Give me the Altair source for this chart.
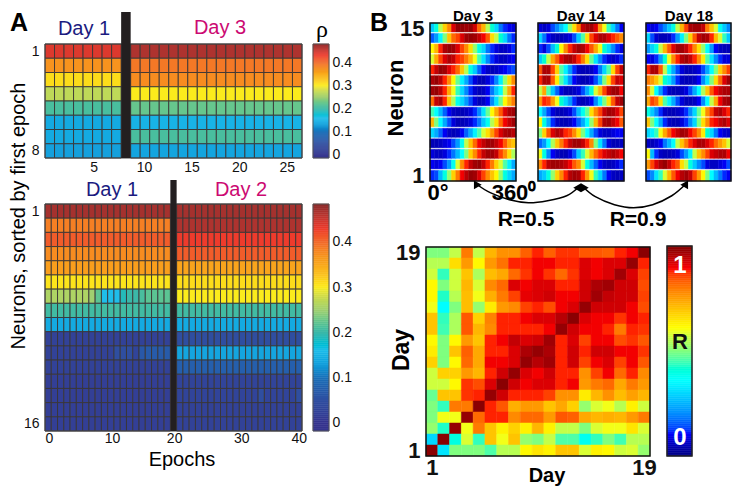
import altair as alt
import numpy as np
import pandas as pd

# ---------- panel A values (rho) ----------
a1_day1 = [.44, .37, .31, .27, .21, .14, .14, .13]
a1_day3 = [.465, .39, .375, .30, .225, .15, .21, .135]
a2_day1 = [.47, .385, .41, .375, .36, .305, .27, .205, .14, .025, .025, .025, .02, .02, .02, .02]
a2_day2 = [.47, .465, .43, .41, .355, .31, .30, .205, .14, .05, .135, .075, .03, .03, .025, .025]
a2_row7_day1 = [.26, .26, .26, .26, .26, .26, .26, .25, .22, .16, .16, .16, .19, .2, .2, .21, .22, .22, .22, .22]
a2_row11_day1 = [.025, .025, .025, .025, .025, .025, .025, .025, .025, .025, .025, .05, .05, .05, .03, .065, .07, .07, .07, .07]
a2_row14_day2 = [.03, .03, .03, .03, .03, .03, .03, .03, .03, .03, .03, .03, .03, .05, .03, .03, .03, .03, .03, .05]

# ---------- panel B values (jet position 0..1), rows listed from neuron 15 down to 1 ----------
day3 = [
 [.28,.40,.55,.68,.78,.92,.98,.98,.97,.98,.93,.82,.72,.55,.42,.30,.18,.12,.10,.08],
 [.15,.22,.35,.50,.70,.82,.86,.92,.97,.98,.97,.94,.90,.84,.66,.56,.42,.30,.18,.12],
 [.62,.72,.88,.96,.98,.97,.92,.86,.78,.66,.52,.40,.30,.18,.12,.08,.06,.06,.08,.12],
 [.58,.74,.86,.92,.96,.94,.88,.86,.80,.72,.60,.45,.32,.20,.12,.08,.06,.06,.08,.10],
 [.88,.94,.98,.97,.92,.88,.82,.70,.55,.40,.28,.16,.10,.06,.05,.06,.08,.10,.12,.14],
 [.96,.98,.95,.88,.78,.62,.48,.34,.24,.14,.08,.05,.05,.08,.12,.20,.34,.52,.66,.78],
 [.97,.98,.95,.88,.74,.60,.44,.30,.20,.12,.07,.05,.06,.10,.18,.28,.36,.56,.74,.88],
 [.82,.94,.96,.88,.70,.54,.38,.30,.22,.14,.08,.05,.06,.10,.20,.32,.48,.62,.72,.80],
 [.45,.36,.26,.16,.10,.06,.05,.05,.06,.08,.12,.20,.32,.48,.62,.74,.84,.92,.96,.97],
 [.72,.50,.36,.24,.14,.08,.05,.05,.06,.08,.12,.18,.28,.38,.55,.66,.82,.90,.94,.97],
 [.30,.24,.16,.10,.06,.05,.06,.10,.16,.24,.34,.46,.58,.66,.76,.86,.92,.96,.97,.95],
 [.05,.05,.06,.08,.10,.14,.22,.38,.56,.70,.82,.90,.94,.97,.97,.94,.90,.84,.74,.70],
 [.08,.06,.06,.08,.12,.18,.26,.36,.50,.68,.78,.88,.94,.97,.97,.94,.86,.78,.66,.54],
 [.10,.08,.10,.14,.22,.38,.58,.78,.88,.94,.97,.98,.94,.88,.80,.68,.58,.46,.34,.24],
 [.12,.14,.26,.40,.52,.68,.80,.90,.95,.98,.97,.92,.86,.78,.70,.62,.52,.40,.30,.24],
]
day14 = [
 [.08,.06,.08,.14,.20,.28,.36,.52,.66,.80,.94,.97,.97,.92,.76,.60,.44,.30,.18,.10],
 [.30,.18,.10,.06,.05,.05,.06,.08,.14,.28,.46,.66,.86,.92,.96,.96,.92,.88,.84,.78],
 [.12,.08,.14,.26,.42,.62,.78,.88,.94,.97,.96,.90,.84,.74,.60,.42,.30,.20,.12,.08],
 [.28,.42,.56,.74,.84,.92,.96,.97,.94,.88,.80,.66,.48,.32,.20,.12,.08,.06,.08,.12],
 [.84,.96,.96,.86,.68,.46,.34,.22,.12,.06,.05,.05,.06,.10,.18,.30,.46,.66,.86,.94],
 [.88,.96,.96,.84,.64,.46,.32,.20,.10,.06,.05,.05,.08,.14,.26,.50,.66,.86,.94,.92],
 [.56,.74,.46,.28,.16,.08,.05,.05,.06,.08,.14,.24,.40,.58,.72,.86,.94,.97,.97,.90],
 [.76,.88,.86,.76,.60,.42,.30,.22,.12,.06,.05,.06,.10,.20,.34,.50,.66,.84,.94,.97],
 [.36,.24,.14,.08,.05,.05,.06,.08,.14,.26,.38,.48,.66,.78,.86,.94,.97,.96,.92,.86],
 [.62,.40,.24,.12,.06,.05,.05,.06,.10,.16,.24,.36,.52,.72,.86,.96,.97,.94,.90,.84],
 [.50,.68,.84,.92,.96,.94,.88,.86,.78,.66,.50,.36,.24,.14,.08,.06,.06,.08,.10,.10],
 [.16,.22,.36,.54,.70,.80,.88,.94,.97,.97,.94,.88,.78,.50,.32,.18,.08,.05,.05,.06],
 [.60,.40,.20,.10,.06,.05,.05,.08,.14,.28,.44,.58,.72,.82,.88,.92,.94,.96,.94,.90],
 [.78,.88,.95,.97,.97,.96,.94,.90,.84,.78,.58,.40,.26,.16,.10,.06,.05,.06,.08,.12],
 [.24,.28,.40,.52,.68,.78,.88,.95,.97,.96,.88,.76,.60,.44,.30,.18,.10,.06,.05,.06],
]
day18 = [
 [.10,.08,.10,.14,.20,.28,.40,.56,.72,.86,.96,.97,.97,.94,.80,.70,.58,.38,.28,.20],
 [.30,.14,.07,.05,.05,.06,.12,.22,.34,.50,.68,.84,.94,.97,.96,.88,.72,.58,.44,.28],
 [.22,.30,.40,.56,.72,.84,.92,.97,.97,.94,.88,.78,.66,.52,.36,.22,.10,.06,.05,.05],
 [.10,.08,.12,.22,.42,.60,.78,.88,.95,.97,.94,.88,.78,.64,.46,.32,.20,.12,.08,.08],
 [.88,.96,.96,.84,.56,.38,.24,.14,.08,.05,.05,.06,.08,.14,.24,.36,.50,.68,.78,.86],
 [.80,.76,.70,.58,.42,.32,.22,.12,.06,.05,.05,.06,.10,.20,.32,.50,.66,.82,.92,.97],
 [.78,.58,.36,.22,.12,.06,.05,.05,.06,.08,.14,.24,.36,.54,.70,.84,.90,.94,.96,.96],
 [.74,.86,.82,.66,.46,.34,.24,.14,.08,.05,.05,.06,.10,.20,.36,.56,.74,.90,.96,.97],
 [.40,.28,.20,.12,.06,.05,.05,.06,.08,.12,.20,.30,.48,.60,.78,.86,.94,.96,.92,.88],
 [.70,.50,.36,.24,.12,.06,.05,.05,.08,.12,.20,.30,.50,.66,.78,.88,.90,.94,.96,.92],
 [.30,.34,.44,.60,.74,.84,.90,.94,.97,.96,.90,.86,.78,.64,.42,.30,.18,.10,.07,.06],
 [.06,.05,.07,.10,.18,.26,.36,.56,.70,.80,.88,.92,.96,.96,.92,.88,.82,.76,.70,.58],
 [.62,.26,.12,.06,.05,.05,.06,.08,.14,.22,.34,.56,.70,.78,.86,.92,.94,.96,.96,.90],
 [.76,.86,.92,.96,.98,.94,.88,.84,.66,.56,.40,.28,.20,.14,.08,.06,.06,.08,.10,.14],
 [.14,.20,.32,.44,.58,.72,.84,.90,.95,.97,.94,.86,.76,.62,.50,.36,.26,.18,.12,.10],
]
# day-by-day correlation (jet position), rows from day 19 down to day 1
matrix = [
 [.50,.50,.56,.80,.56,.72,.77,.77,.83,.88,.83,.87,.87,.84,.84,.83,.88,.90,.99],
 [.55,.55,.66,.76,.62,.76,.81,.88,.88,.90,.90,.88,.88,.92,.90,.92,.92,.98,.88],
 [.57,.44,.57,.70,.54,.71,.74,.82,.87,.90,.87,.82,.87,.92,.90,.92,.97,.92,.86],
 [.62,.50,.57,.72,.58,.78,.82,.92,.90,.92,.92,.88,.88,.93,.96,.97,.93,.93,.85],
 [.62,.43,.55,.71,.60,.73,.80,.86,.91,.92,.93,.90,.90,.93,.97,.94,.93,.93,.86],
 [.60,.36,.50,.71,.52,.64,.76,.78,.86,.88,.85,.90,.92,.98,.93,.93,.93,.90,.85],
 [.70,.44,.54,.84,.68,.79,.88,.88,.90,.92,.92,.95,.99,.92,.90,.90,.87,.90,.88],
 [.70,.45,.54,.84,.72,.78,.88,.88,.88,.88,.90,.98,.93,.90,.90,.88,.80,.88,.87],
 [.62,.50,.62,.76,.70,.88,.90,.94,.92,.93,.97,.88,.92,.86,.90,.90,.85,.87,.84],
 [.64,.50,.70,.83,.74,.88,.88,.92,.96,.98,.96,.88,.93,.88,.93,.93,.90,.90,.87],
 [.68,.50,.62,.82,.74,.90,.90,.92,.98,.95,.97,.88,.93,.86,.90,.92,.86,.90,.84],
 [.57,.68,.68,.76,.72,.88,.93,.98,.92,.90,.93,.88,.88,.77,.86,.90,.82,.88,.78],
 [.57,.57,.62,.87,.85,.92,.99,.93,.90,.92,.92,.88,.90,.76,.80,.82,.74,.80,.76],
 [.48,.70,.70,.87,.88,.98,.93,.88,.88,.88,.86,.77,.77,.64,.72,.77,.71,.75,.72],
 [.50,.44,.80,.80,.99,.88,.84,.73,.76,.76,.70,.74,.68,.52,.58,.60,.55,.63,.57],
 [.50,.60,.60,.98,.82,.88,.88,.78,.82,.82,.76,.84,.83,.74,.72,.73,.72,.76,.80],
 [.52,.43,.98,.60,.80,.70,.63,.68,.63,.72,.63,.56,.56,.50,.58,.60,.60,.65,.58],
 [.30,.99,.40,.58,.44,.70,.60,.70,.52,.50,.56,.46,.46,.38,.44,.50,.45,.55,.55],
 [.99,.32,.50,.50,.50,.46,.55,.55,.62,.65,.63,.70,.70,.58,.63,.62,.57,.58,.52],
]
# arrows, in Day-14 panel units (degrees, neuron rows)
arc_left_deg = [-260, -200, -120, -40, 40, 120, 172]
arc_left_row = [.24, -.61, -1.28, -1.56, -1.37, -.9, -.04]
arc_right_deg = [188, 240, 320, 400, 480, 560, 620]
arc_right_row = [-.04, -.99, -1.75, -2.04, -1.75, -.9, .24]

# ---------- colour maps ----------
rho_dom = [0, .05, .10, .13, .16, .20, .25, .28, .30, .33, .37, .40, .43, .46, .484]
rho_col = ['#36358f', '#2f4ea0', '#1a6fb8', '#15a0dc', '#1fbdea', '#3bb8a8', '#a0cf70', '#d0dc4a',
           '#fbeb1c', '#fbc020', '#f7931e', '#f26a2b', '#ee3b2c', '#b8352f', '#8a2c2c']
jet_dom = [0, .11, .36, .5, .61, .89, 1]
jet_col = ['#00007f', '#0000ff', '#00ffff', '#7fff7f', '#ffff00', '#ff0000', '#7f0000']

W, H = 724, 481
FONT = 'Liberation Sans'
BAR = '#231f20'


def P(v):
    return v - 8


def Q(name, dom, rng, axis=None):
    return alt.Scale(domain=dom, range=[P(rng[0]), P(rng[1])], nice=False, zero=False)


rho_scale = alt.Scale(domain=rho_dom, range=rho_col, clamp=True)
jet_scale = alt.Scale(domain=jet_dom, range=jet_col, clamp=True)


def text(s, x, y, size, color='black', weight='normal', angle=0, font=FONT, align='center'):
    return alt.Chart(pd.DataFrame({'k': [0]})).mark_text(
        text=s, fontSize=size, color=color, fontWeight=weight, angle=angle, font=font,
        align=align, baseline='middle').encode(x=alt.value(P(x)), y=alt.value(P(y)))


def cells(df, xdom, xrng, ydom, yrng, scale, stroke=None, xaxis=None, yaxis=None):
    enc = dict(
        x=alt.X('x0:Q', scale=Q('x', xdom, xrng), axis=xaxis), x2='x1:Q',
        y=alt.Y('y0:Q', scale=Q('y', ydom, yrng), axis=yaxis), y2='y1:Q',
        color=alt.Color('v:Q', scale=scale, legend=None))
    if stroke:
        mark = alt.Chart(df).mark_rect(stroke=stroke, strokeWidth=0.9, opacity=1)
    else:
        mark = alt.Chart(df).mark_rect(strokeWidth=0.5, opacity=1)
        enc['stroke'] = alt.Stroke('v:Q', scale=scale, legend=None)
    return mark.encode(**enc)


def border(x0, x1, y0, y1, color='#222222', width=1.5):
    return alt.Chart(pd.DataFrame({'k': [0]})).mark_rect(
        fill=None, stroke=color, strokeWidth=width).encode(
        x=alt.value(P(x0)), x2=alt.value(P(x1)), y=alt.value(P(y0)), y2=alt.value(P(y1)))


def axis_common(size=14, weight='normal', pad=2, **kw):
    return dict(title=None, grid=False, ticks=False, domain=False, labelFontSize=size, labelFont=FONT,
                labelFontWeight=weight, labelPadding=pad, labelColor='#111111', labelOverlap=False, **kw)


def heat_a(day_a, day_b, nleft, nright, extra=None):
    rows = []
    extra = extra or {}
    for r, (va, vb) in enumerate(zip(day_a, day_b), start=1):
        for c in range(nleft):
            v = extra[('a', r)][c] if ('a', r) in extra else va
            rows.append(dict(x0=c, x1=c + 1, y0=r - .5, y1=r + .5, v=v))
        for c in range(nright):
            v = extra[('b', r)][c] if ('b', r) in extra else vb
            rows.append(dict(x0=nleft + 1 + c, x1=nleft + 2 + c, y0=r - .5, y1=r + .5, v=v))
    return pd.DataFrame(rows)


def bar(xa, xb, xdom, xrng, top, bottom):
    return alt.Chart(pd.DataFrame({'x0': [xa], 'x1': [xb]})).mark_rect(color=BAR).encode(
        x=alt.X('x0:Q', scale=Q('x', xdom, xrng), axis=None), x2='x1:Q',
        y=alt.value(P(top)), y2=alt.value(P(bottom)))


def colorbar(x0, x1, y0, y1, dom, scale, yaxis=None, levels=110):
    edges = np.linspace(dom[0], dom[1], levels + 1)
    df = pd.DataFrame({'y0': edges[:-1], 'y1': edges[1:], 'v': (edges[:-1] + edges[1:]) / 2,
                       'x0': 0, 'x1': 1})
    return cells(df, [0, 1], [x0, x1], dom, [y1, y0], scale, yaxis=yaxis)


def neuron_panel(rows):
    recs = []
    for i, row in enumerate(rows):
        r = 15 - i
        for j, v in enumerate(row):
            recs.append(dict(x0=j * 18, x1=(j + 1) * 18,
                             y0=r - .5 + (.15 if r > 1 else 0), y1=r + .5, v=v))
    return pd.DataFrame(recs)


layers = []

# --- A, top
a1 = heat_a(a1_day1, a1_day3, 8, 18)
layers.append(cells(a1, [0, 27], [45, 302], [.5, 8.5], [44, 158], rho_scale, stroke='#3a3535',
    xaxis=alt.Axis(orient='bottom', offset=P(158) - H, values=[5.1, 10.4, 15.4, 20.4, 25.4],
                   labelExpr="round(datum.value/5)*5", **axis_common(pad=2)),
    yaxis=alt.Axis(orient='left', offset=-P(45), values=[1, 8], **axis_common(pad=6))))
layers.append(border(45, 302, 44, 158, '#444444', 1))
layers.append(bar(8, 9, [0, 27], [45, 302], 12, 158))

# --- A, bottom
a2 = heat_a(a2_day1, a2_day2, 20, 20,
            extra={('a', 7): a2_row7_day1, ('a', 11): a2_row11_day1, ('b', 14): a2_row14_day2})
layers.append(cells(a2, [0, 41], [45, 302], [.5, 16.5], [204, 431], rho_scale, stroke='#3a3535',
    xaxis=alt.Axis(orient='bottom', offset=P(431) - H, values=[0, 10.7, 20.6, 31.3, 40.5],
                   labelExpr="round(datum.value/10)*10", **axis_common(pad=0)),
    yaxis=alt.Axis(orient='left', offset=-P(45), values=[1, 16], **axis_common(pad=6))))
layers.append(border(45, 302, 204, 431, '#444444', 1))
layers.append(bar(20, 21, [0, 41], [45, 302], 180, 431))

# --- A colour bars
zero_expr = "datum.value==0 ? '0' : format(datum.value,'.1f')"
layers.append(colorbar(313, 329, 44, 158, [-.013, .478], rho_scale,
    yaxis=alt.Axis(orient='right', offset=P(329) - W, values=[0, .1, .2, .3, .4], labelExpr=zero_expr,
                   **axis_common(pad=3))))
layers.append(border(313, 329, 44, 158, '#555555', 1))
layers.append(colorbar(313, 329, 204, 431, [-.018, .484], rho_scale,
    yaxis=alt.Axis(orient='right', offset=P(329) - W, values=[0, .1, .2, .3, .4], labelExpr=zero_expr,
                   **axis_common(pad=3))))
layers.append(border(313, 329, 204, 431, '#555555', 1))

# --- B, neuron panels
for rows, x0, x1, with_axis in [(day3, 430, 516, True), (day14, 538, 624, False), (day18, 646, 731, False)]:
    yax = alt.Axis(orient='left', offset=-P(x0), values=[1, 15],
                   **axis_common(size=22, weight='bold', pad=6)) if with_axis else None
    layers.append(cells(neuron_panel(rows), [0, 360], [x0, x1], [.5, 15.5], [181, 23],
                        jet_scale, yaxis=yax))
    layers.append(border(x0, x1, 23, 181, '#111111', 1.5))

# --- arrows
for deg, row in [(arc_left_deg, arc_left_row), (arc_right_deg, arc_right_row)]:
    layers.append(alt.Chart(pd.DataFrame({'d': deg, 'r': row})).mark_line(
        interpolate='cardinal', color='black', strokeWidth=1.5).encode(
        x=alt.X('d:Q', scale=Q('x', [0, 360], [538, 624]), axis=None),
        y=alt.Y('r:Q', scale=Q('y', [.5, 15.5], [181, 23]), axis=None)))
for d, r, ang in [(arc_left_deg[0], arc_left_row[0], 330), (arc_left_deg[-1], arc_left_row[-1], 30),
                  (arc_right_deg[0], arc_right_row[0], 330), (arc_right_deg[-1], arc_right_row[-1], 30)]:
    layers.append(alt.Chart(pd.DataFrame({'d': [d], 'r': [r]})).mark_point(
        shape='triangle-up', filled=True, color='black', size=80, angle=ang, opacity=1).encode(
        x=alt.X('d:Q', scale=Q('x', [0, 360], [538, 624]), axis=None),
        y=alt.Y('r:Q', scale=Q('y', [.5, 15.5], [181, 23]), axis=None)))

# --- B, matrix
recs = []
for i, row in enumerate(matrix):
    r = 19 - i
    for j, v in enumerate(row):
        recs.append(dict(x0=j + .5, x1=j + 1.5, y0=r - .5, y1=r + .5, v=v))
layers.append(cells(pd.DataFrame(recs), [.5, 19.5], [426, 650], [.5, 19.5], [456, 247], jet_scale,
    xaxis=alt.Axis(orient='bottom', offset=P(456) - H, values=[1, 19], **axis_common(size=22, weight='bold', pad=1)),
    yaxis=alt.Axis(orient='left', offset=-P(426), values=[1, 19], **axis_common(size=22, weight='bold', pad=6))))
layers.append(border(426, 650, 247, 456, '#111111', 1.5))
layers.append(colorbar(667, 692, 246, 456, [0, 1], jet_scale))
layers.append(border(667, 692, 246, 456, '#222222', 1.5))

# --- texts
for args in [
    ('A', 19, 23, 25, 'black', 'bold'),
    ('B', 379, 23, 25, 'black', 'bold'),
    ('Day 1', 84, 29, 20, '#1b1b80'),
    ('Day 3', 220, 28, 20, '#cc0a72'),
    ('Day 1', 112, 190, 20, '#1b1b80'),
    ('Day 2', 241, 190, 20, '#cc0a72'),
    ('Epochs', 182, 460, 20),
    ('Day 3', 473, 15.5, 15, 'black', 'bold'),
    ('Day 14', 581, 15.5, 15, 'black', 'bold'),
    ('Day 18', 689, 15.5, 15, 'black', 'bold'),
    ('0°', 438, 193, 22, 'black', 'bold'),
    ('360⁰', 514, 193, 22, 'black', 'bold'),
    ('R=0.5', 526, 220, 21, 'black', 'bold'),
    ('R=0.9', 638, 220, 21, 'black', 'bold'),
    ('Day', 547, 476, 20, 'black', 'bold'),
    ('1', 680, 266, 24, 'white', 'bold'),
    ('0', 680, 438, 24, 'white', 'bold'),
    ('R', 680, 342, 22, '#111111', 'bold'),
]:
    layers.append(text(*args))
layers.append(text('ρ', 322, 30, 24, font='Liberation Serif'))
layers.append(text('Neurons, sorted by first epoch', 19, 216, 20, angle=270))
layers.append(text('Neuron', 396, 98, 22, 'black', 'bold', angle=270))
layers.append(text('Day', 402, 350, 23, 'black', 'bold', angle=270))

chart = alt.layer(*layers).resolve_scale(
    x='independent', y='independent', color='independent', stroke='independent'
).resolve_axis(x='independent', y='independent').properties(
    width=W, height=H, padding=0, autosize=alt.AutoSizeParams(type='none'),
    background='white').configure_view(stroke=None)

chart.save("out.html", embed_options={"renderer": "svg", "actions": False})
